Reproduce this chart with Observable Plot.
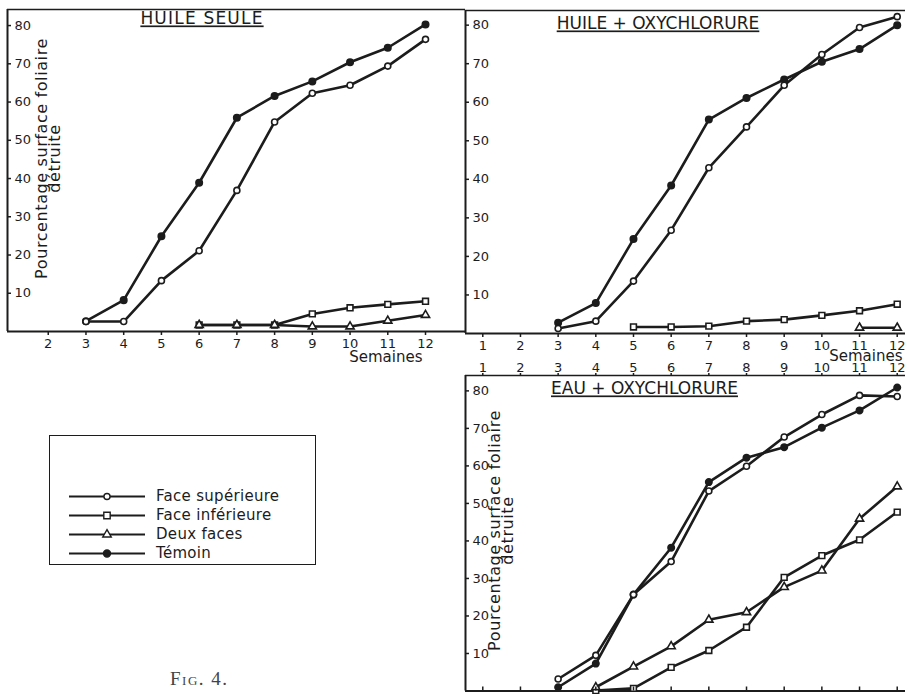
<!DOCTYPE html>
<html>
<head>
<meta charset="utf-8">
<script src="https://cdn.jsdelivr.net/npm/d3@7"></script>
<script src="https://cdn.jsdelivr.net/npm/@observablehq/plot@0.6"></script>
<style>
  html, body { margin: 0; padding: 0; background: #ffffff; }
  #root { position: relative; width: 910px; height: 694px; overflow: hidden; font-family: "DejaVu Sans", sans-serif; color: #1c1c1c; }
  #root .panel { position: absolute; }
  #root text.titre { text-decoration: underline; text-decoration-thickness: 2px; text-underline-offset: 5px; }
  #root text.ytitre { letter-spacing: 0.6px; }
  #legend { position: absolute; left: 49px; top: 435px; width: 267px; height: 130px; box-sizing: border-box; border: 1.6px solid #1c1c1c; }
  #legend .row { position: absolute; left: 0; height: 19px; display: flex; align-items: center; }
  #legend .row span { position: absolute; left: 106px; font-size: 15px; white-space: nowrap; letter-spacing: 0.3px; }
  #caption { position: absolute; left: 170px; top: 668px; font-family: "Liberation Serif", serif; font-variant: small-caps; font-size: 19px; letter-spacing: 1.5px; color: #444; }
</style>
</head>
<body>
<div id="root"></div>
<script>
// ---------- data ----------
const weeks = [1, 2, 3, 4, 5, 6, 7, 8, 9, 10, 11, 12];
const seriesNames = ["Face supérieure", "Face inférieure", "Deux faces", "Témoin"];
const panelTitles = ["HUILE SEULE", "HUILE + OXYCHLORURE", "EAU + OXYCHLORURE"];
const yTitle = "Pourcentage surface foliaire\ndétruite";
const xTitle = "Semaines";
const captionText = "Fig. 4.";
const yTickValues = [10, 20, 30, 40, 50, 60, 70, 80];

// HUILE SEULE
const huileSeuleSup    = [null, null, 2.6, 2.6, 13.3, 21.1, 36.9, 54.8, 62.3, 64.4, 69.4, 76.4];
const huileSeuleInf    = [null, null, null, null, null, 1.7, 1.7, 1.7, 4.6, 6.2, 7.1, 7.9];
const huileSeuleDeux   = [null, null, null, null, null, 1.7, 1.7, 1.7, 1.3, 1.3, 2.8, 4.3];
const huileSeuleTemoin = [null, null, 2.7, 8.2, 24.9, 38.9, 55.9, 61.6, 65.4, 70.4, 74.2, 80.3];

// HUILE + OXYCHLORURE
const huileOxySup    = [null, null, 1.3, 3.2, 13.6, 26.8, 43.0, 53.6, 64.4, 72.4, 79.4, 82.2];
const huileOxyInf    = [null, null, null, null, 1.7, 1.7, 1.9, 3.2, 3.6, 4.7, 5.9, 7.6];
const huileOxyDeux   = [null, null, null, null, null, null, null, null, null, null, 1.5, 1.5];
const huileOxyTemoin = [null, null, 2.8, 7.9, 24.5, 38.4, 55.5, 61.1, 65.9, 70.5, 73.8, 80.0];

// EAU + OXYCHLORURE
const eauOxySup    = [null, null, 3.2, 9.5, 25.7, 34.5, 53.3, 59.9, 67.7, 73.7, 78.8, 78.5];
const eauOxyInf    = [null, null, null, 0.1, 0.7, 6.3, 10.8, 17.0, 30.3, 36.1, 40.3, 47.7];
const eauOxyDeux   = [null, null, null, 1.0, 6.5, 11.9, 19.0, 21.0, 27.7, 32.1, 45.9, 54.5];
const eauOxyTemoin = [null, null, 1.0, 7.3, 25.7, 38.2, 55.7, 62.2, 65.0, 70.2, 74.8, 80.9];

// ---------- styling ----------
const ink = "#1c1c1c";
const symbolRange = ["circle", "square", "triangle", "circle"];
const fillRange = ["#ffffff", "#ffffff", "#ffffff", ink];
const rRange = [3.3, 3.9, 3.4, 3.8];
const tickFont = 13;

function table(arrays) {
  const rows = [];
  arrays.forEach((arr, i) => {
    arr.forEach((v, j) => {
      if (v != null) rows.push({ week: weeks[j], value: v, series: seriesNames[i] });
    });
  });
  return rows;
}

function makePanel(cfg) {
  const data = table(cfg.arrays);
  const marks = [
    Plot.ruleX([cfg.xDomain[0]], { stroke: ink, strokeWidth: 2 }),
    Plot.ruleY([cfg.yDomain[0]], { stroke: ink, strokeWidth: 2 }),
    Plot.ruleY([cfg.yDomain[1]], { stroke: ink, strokeWidth: 1.6 }),
    Plot.axisY({ anchor: "left", label: null, ticks: yTickValues, tickSize: -4, tickPadding: -3, textAnchor: "start", stroke: ink, strokeWidth: 1.5, fontSize: tickFont, fill: ink, tickFormat: d => String(d) }),
    Plot.line(data, { x: "week", y: "value", z: "series", stroke: ink, strokeWidth: 2.6, strokeLinejoin: "round" }),
    Plot.dot(data, { x: "week", y: "value", symbol: "series", fill: d => fillRange[seriesNames.indexOf(d.series)], r: d => rRange[seriesNames.indexOf(d.series)], stroke: ink, strokeWidth: 1.6 }),
    Plot.text([cfg.title], { frameAnchor: "top", dx: cfg.titleDx, dy: cfg.titleDy, lineAnchor: "middle", fontSize: 17, fill: ink })
  ];
  if (cfg.xAxisBottomLabels) {
    marks.push(Plot.axisX({ anchor: "bottom", label: null, ticks: cfg.xTicks, tickSize: 4, tickPadding: 3, stroke: ink, strokeWidth: 1.5, fontSize: tickFont, fill: ink, tickFormat: d => String(d) }));
  } else {
    marks.push(Plot.axisX({ anchor: "bottom", label: null, ticks: cfg.xTicks, tickSize: -4, tickFormat: () => "", stroke: ink, strokeWidth: 1.5 }));
    marks.push(Plot.axisX({ anchor: "top", label: null, ticks: cfg.xTicks, tickSize: 3, tickPadding: 1, stroke: ink, strokeWidth: 1.5, fontSize: tickFont, fill: ink, tickFormat: d => String(d) }));
  }
  if (cfg.showYTitle) {
    marks.push(Plot.text([yTitle], { frameAnchor: "left", rotate: -90, dx: cfg.yTitleDx, dy: cfg.yTitleDy, lineAnchor: "middle", textAnchor: "middle", lineHeight: 0.8, fontSize: 16, fill: ink }));
  }
  if (cfg.showXTitle) {
    marks.push(Plot.text([xTitle], { frameAnchor: "bottom-right", textAnchor: "end", lineAnchor: "middle", dx: cfg.xTitleDx, dy: cfg.xTitleDy, fontSize: 15, fill: ink }));
  }
  const svg = Plot.plot({
    width: cfg.width, height: cfg.height,
    marginLeft: cfg.margin[3], marginRight: cfg.margin[1], marginTop: cfg.margin[0], marginBottom: cfg.margin[2],
    style: { background: "transparent", overflow: "visible", fontFamily: "DejaVu Sans, sans-serif", fontSize: "14px", color: ink },
    x: { domain: cfg.xDomain, axis: null, label: null },
    y: { domain: cfg.yDomain, axis: null, label: null },
    symbol: { domain: seriesNames, range: symbolRange },
    marks
  });
  svg.classList.add("panel");
  svg.style.left = cfg.left + "px";
  svg.style.top = cfg.top + "px";
  svg.querySelectorAll("text").forEach(t => {
    if (t.textContent === cfg.title) {
      t.classList.add("titre");
      t.setAttribute("text-decoration", "underline");
      if (cfg.titleSpacing) t.style.letterSpacing = cfg.titleSpacing + "px";
    }
    if (t.textContent === yTitle.replace("\n", "")) t.classList.add("ytitre");
  });
  return svg;
}

const root = document.getElementById("root");

root.appendChild(makePanel({
  left: 0, top: 0, width: 470, height: 370, margin: [9, 5, 39, 7],
  xDomain: [0.92, 13.06], yDomain: [0, 84.2],
  arrays: [huileSeuleSup, huileSeuleInf, huileSeuleDeux, huileSeuleTemoin],
  title: panelTitles[0], titleSpacing: 1.2, titleDx: -34.5, titleDy: 9.5,
  xTicks: weeks.slice(1), xAxisBottomLabels: true,
  showYTitle: true, yTitleDx: 42, yTitleDy: -12,
  showXTitle: true, xTitleDx: -43, xTitleDy: 26
}));

root.appendChild(makePanel({
  left: 455, top: 0, width: 455, height: 375, margin: [10, 5, 42, 10],
  xDomain: [0.541, 12.22], yDomain: [0, 83.8],
  arrays: [huileOxySup, huileOxyInf, huileOxyDeux, huileOxyTemoin],
  title: panelTitles[1], titleDx: -27.5, titleDy: 13.5,
  xTicks: weeks, xAxisBottomLabels: true,
  showYTitle: false,
  showXTitle: true, xTitleDx: -3, xTitleDy: 23
}));

root.appendChild(makePanel({
  left: 455, top: 345, width: 455, height: 349, margin: [30, 5, 3.5, 10],
  xDomain: [0.541, 12.22], yDomain: [0, 84.1],
  arrays: [eauOxySup, eauOxyInf, eauOxyDeux, eauOxyTemoin],
  title: panelTitles[2], titleDx: -41, titleDy: 13.5,
  xTicks: weeks, xAxisBottomLabels: false,
  showYTitle: true, yTitleDx: 37, yTitleDy: -2.75,
  showXTitle: false
}));

// ---------- legend ----------
const legend = d3.select(root).append("div").attr("id", "legend");
const rowTops = [50, 69, 88, 107];
seriesNames.forEach((name, i) => {
  const row = legend.append("div").attr("class", "row").style("top", (rowTops[i] + 0.5) + "px");
  const s = row.append("svg").attr("width", 100).attr("height", 19).style("position", "absolute").style("left", "0px").style("top", "0px");
  s.append("line").attr("x1", 19).attr("x2", 95).attr("y1", 9.5).attr("y2", 9.5).attr("stroke", ink).attr("stroke-width", 2.2);
  const sym = { circle: d3.symbolCircle, square: d3.symbolSquare, triangle: d3.symbolTriangle }[symbolRange[i]];
  s.append("path")
    .attr("d", d3.symbol(sym, Math.PI * rRange[i] * rRange[i] * 0.85)())
    .attr("transform", "translate(57,9.5)")
    .attr("fill", fillRange[i]).attr("stroke", ink).attr("stroke-width", 1.4);
  row.append("span").text(name).style("top", "0px").style("line-height", "19px");
});

d3.select(root).append("div").attr("id", "caption").text(captionText);
</script>
</body>
</html>
